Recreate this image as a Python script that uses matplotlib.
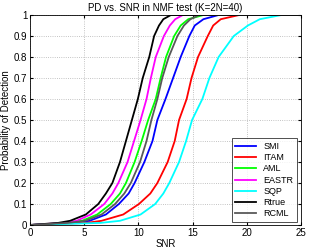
import matplotlib
matplotlib.use("Agg")
import matplotlib.pyplot as plt

plt.rcParams['font.family'] = ['Liberation Sans', 'DejaVu Sans']

pd_levels = [0.0, 0.01, 0.02, 0.05, 0.1, 0.15, 0.2, 0.3, 0.4, 0.5, 0.6, 0.7, 0.8, 0.9, 0.95, 0.98, 1.0]
snr_smi   = [0.0, 4.0, 5.5, 7.0, 8.2, 9.1, 9.65, 10.55, 11.3, 11.75, 12.5, 13.2, 13.9, 14.7, 15.2, 16.0, 17.4]
snr_itam  = [0.0, 5.2, 6.6, 8.6, 10.05, 11.1, 11.75, 12.7, 13.35, 13.75, 14.45, 14.9, 15.5, 16.4, 16.9, 17.6, 19.3]
snr_aml   = [0.0, 3.3, 4.8, 6.2, 7.45, 8.3, 8.85, 9.65, 10.3, 10.9, 11.6, 12.05, 12.55, 13.3, 13.9, 14.6, 16.0]
snr_eastr = [0.0, 3.0, 4.3, 5.6, 6.85, 7.6, 8.15, 9.0, 9.6, 10.2, 10.75, 11.15, 11.6, 12.35, 12.9, 13.4, 14.1]
snr_sqp   = [0.0, 6.5, 8.3, 10.2, 11.55, 12.3, 12.85, 13.75, 14.4, 14.95, 15.9, 16.55, 17.4, 18.8, 20.1, 21.2, 23.2]
snr_rtrue = [0.0, 2.6, 3.7, 5.15, 6.3, 7.0, 7.6, 8.3, 8.85, 9.4, 9.95, 10.4, 11.0, 11.45, 11.9, 12.3, 13.0]
snr_rcml  = [0.0, 3.5, 5.1, 6.6, 7.85, 8.7, 9.3, 10.15, 10.75, 11.2, 11.75, 12.2, 12.8, 13.6, 14.2, 14.8, 15.6]

series = [
    ("SMI", snr_smi, "#0000ff"),
    ("ITAM", snr_itam, "#ff0000"),
    ("AML", snr_aml, "#00ff00"),
    ("EASTR", snr_eastr, "#ff00ff"),
    ("SQP", snr_sqp, "#00ffff"),
    ("Rtrue", snr_rtrue, "#000000"),
    ("RCML", snr_rcml, "#595959"),
]

fig = plt.figure(figsize=(3.22, 2.5), dpi=100)
ax = fig.add_axes([30/322, 25/250, 271/322, 210/250])
for name, snr, c in series:
    ax.plot(snr + [25], pd_levels + [1.0], color=c, lw=1.3, label=name)

ax.set_xlim(0, 25)
ax.set_ylim(0, 1)
ax.set_xticks([0, 5, 10, 15, 20, 25])
ax.set_yticks([0, 0.1, 0.2, 0.3, 0.4, 0.5, 0.6, 0.7, 0.8, 0.9, 1])
ax.set_yticklabels(["0", "0.1", "0.2", "0.3", "0.4", "0.5", "0.6", "0.7", "0.8", "0.9", "1"])
ax.tick_params(direction="in", labelsize=7, length=2, pad=2, top=True, right=True)
ax.grid(True, linestyle=":", color="#b0b0b0", lw=0.6)
ax.set_xlabel("SNR", fontsize=7, labelpad=1)
ax.set_ylabel("Probability of Detection", fontsize=7, labelpad=2)
ax.set_title("PD vs. SNR in NMF test (K=2N=40)", fontsize=7, pad=3)
for s in ax.spines.values():
    s.set_linewidth(0.6)
leg = ax.legend(loc="lower right", fontsize=6.5, frameon=True, fancybox=False,
                edgecolor="black", handlelength=2.3, borderpad=0.4, labelspacing=0.25,
                borderaxespad=0, bbox_to_anchor=(0.985, 0.014))
leg.get_frame().set_linewidth(0.6)
fig.savefig("out.png", dpi=100)
